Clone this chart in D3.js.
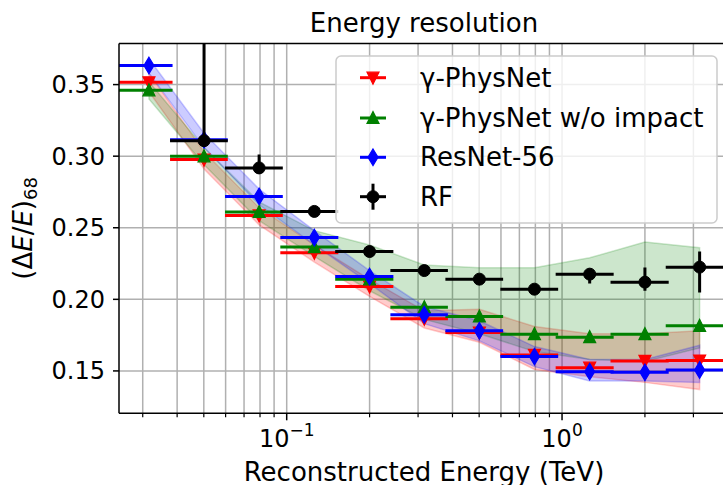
<!DOCTYPE html>
<html>
<head>
<meta charset="utf-8">
<script src="https://cdn.jsdelivr.net/npm/d3@7"></script>
<style>
body{margin:0;background:#fff}
text{font-family:"DejaVu Sans",sans-serif;fill:#000}
</style>
</head>
<body>
<div id="field"></div>
<script>
// bin centres and edges (TeV)
var energy  = [0.0316, 0.0501, 0.0794, 0.126, 0.200, 0.316, 0.501, 0.794, 1.26, 2.00, 3.16]
var binLow  = [0.0238, 0.0377, 0.0597, 0.0948, 0.150, 0.238, 0.377, 0.597, 0.948, 1.50, 2.38]
var binHigh = [0.0385, 0.0611, 0.0968, 0.154, 0.244, 0.385, 0.611, 0.968, 1.54, 2.44, 3.85]

// gamma-PhysNet
var physnet   = [0.3516, 0.2976, 0.2586, 0.2325, 0.2089, 0.1864, 0.1768, 0.1612, 0.1523, 0.1570, 0.1572]
var physnetLo = [0.345, 0.291, 0.252, 0.226, 0.202, 0.180, 0.170, 0.151, 0.146, 0.142, 0.137]
var physnetHi = [0.358, 0.303, 0.264, 0.238, 0.214, 0.192, 0.193, 0.181, 0.176, 0.176, 0.178]
// gamma-PhysNet w/o impact
var noImpact   = [0.3460, 0.2999, 0.2610, 0.2365, 0.2140, 0.1945, 0.1880, 0.1757, 0.1736, 0.1757, 0.1815]
var noImpactLo = [0.340, 0.294, 0.255, 0.230, 0.206, 0.186, 0.176, 0.1635, 0.158, 0.1565, 0.166]
var noImpactHi = [0.352, 0.306, 0.268, 0.248, 0.238, 0.224, 0.222, 0.222, 0.229, 0.240, 0.236]
// ResNet-56
var resnet   = [0.3633, 0.3115, 0.2719, 0.2432, 0.2159, 0.1892, 0.1780, 0.1600, 0.1495, 0.1490, 0.1507]
var resnetLo = [0.358, 0.306, 0.266, 0.238, 0.211, 0.183, 0.171, 0.153, 0.143, 0.143, 0.142]
var resnetHi = [0.368, 0.316, 0.277, 0.248, 0.220, 0.195, 0.185, 0.167, 0.158, 0.158, 0.168]
// RF (no value in first bin)
var rf     = [null, 0.3108, 0.2918, 0.2614, 0.2334, 0.2201, 0.2141, 0.2071, 0.2176, 0.2120, 0.2225]
var rfUp   = [null, 0.090, 0.0093, 0.003, 0.003, 0.002, 0.002, 0.002, 0.004, 0.0102, 0.011]
var rfDown = [null, 0.004, 0.004, 0.003, 0.003, 0.002, 0.002, 0.002, 0.0065, 0.006, 0.0178]

var seriesNames = ["γ-PhysNet", "γ-PhysNet w/o impact", "ResNet-56", "RF"]
var yTicks = [0.15, 0.20, 0.25, 0.30, 0.35]
var xMajor = [0.1, 1]
var xMajorExp = ["−1", "0"]

var width = 723
var height = 485
var svg = d3.select("div#field").append("svg")
            .attr("width", width)
            .attr("height", height)

var pL = 119, pR = 729, pT = 43.5, pB = 413.3
var x = d3.scaleLog().domain([0.02460, 4.04]).range([pL, pR])
var y = d3.scaleLinear().domain([0.1204, 0.3787]).range([pB, pT])

function rows(vals, lo, hi){
	return energy.map(function(e, i){
		return {e: e, lo0: binLow[i], hi0: binHigh[i], v: vals[i],
		        bandLo: lo ? lo[i] : null, bandHi: hi ? hi[i] : null,
		        up: 0, dn: 0}
	})
}
var series = [
	{name: seriesNames[0], color: "#ff0000", marker: "v", data: rows(physnet, physnetLo, physnetHi)},
	{name: seriesNames[1], color: "#008000", marker: "^", data: rows(noImpact, noImpactLo, noImpactHi)},
	{name: seriesNames[2], color: "#0000ff", marker: "d", data: rows(resnet, resnetLo, resnetHi)},
	{name: seriesNames[3], color: "#000000", marker: "o", data: rows(rf).map(function(d, i){
		d.up = rfUp[i]; d.dn = rfDown[i]; return d
	}).filter(function(d){return d.v != null})}
]

svg.append("clipPath").attr("id", "clip")
   .append("rect").attr("x", pL).attr("y", pT)
   .attr("width", pR - pL).attr("height", pB - pT)

// grid
var minor = []
for (var p = -2; p <= 1; p++)
	for (var k = 2; k <= 9; k++) minor.push(k * Math.pow(10, p))
minor = minor.filter(function(v){return v > x.domain()[0] && v < x.domain()[1]})
var grid = svg.append("g").attr("clip-path", "url(#clip)")
grid.selectAll("line.vx")
	.data(minor.concat(xMajor)).enter()
	.append("line")
	  .attr("x1", function(d){return x(d)}).attr("x2", function(d){return x(d)})
	  .attr("y1", pT).attr("y2", pB)
	  .attr("stroke", "#b0b0b0").attr("stroke-width", 1.5)
grid.selectAll("line.hy")
	.data(yTicks).enter()
	.append("line")
	  .attr("x1", pL).attr("x2", pR)
	  .attr("y1", function(d){return y(d)}).attr("y2", function(d){return y(d)})
	  .attr("stroke", "#b0b0b0").attr("stroke-width", 1.5)

// shaded bands
var plot = svg.append("g").attr("clip-path", "url(#clip)")
var area = d3.area()
	.x(function(d){return x(d.e)})
	.y0(function(d){return y(d.bandLo)})
	.y1(function(d){return y(d.bandHi)})
series.slice(0, 3).forEach(function(s){
	plot.append("path")
	  .datum(s.data)
	  .attr("d", area)
	  .attr("fill", s.color).attr("fill-opacity", 0.2)
	  .attr("stroke", s.color).attr("stroke-opacity", 0.2).attr("stroke-width", 1.5)
})

function markerPath(m){
	if (m == "v") return "M0,6.5L-6,-5.5L6,-5.5Z"
	if (m == "^") return "M0,-6.5L-6,5.5L6,5.5Z"
	if (m == "d") return "M0,-8.3L5,0L0,8.3L-5,0Z"
	return null
}
function drawMarker(g, m, color, cx, cy){
	if (m == "o")
		g.append("circle").attr("cx", cx).attr("cy", cy).attr("r", 6)
		 .attr("fill", color).attr("stroke", color).attr("stroke-width", 1)
	else
		g.append("path").attr("d", markerPath(m))
		 .attr("transform", "translate(" + cx + "," + cy + ")")
		 .attr("fill", color).attr("stroke", color).attr("stroke-width", 1.2)
		 .attr("stroke-linejoin", "miter")
}

// error bars + markers
series.forEach(function(s){
	var g = plot.append("g")
	g.selectAll("line.xe")
	  .data(s.data).enter()
	  .append("line")
	    .attr("x1", function(d){return x(d.lo0)}).attr("x2", function(d){return x(d.hi0)})
	    .attr("y1", function(d){return y(d.v)}).attr("y2", function(d){return y(d.v)})
	    .attr("stroke", s.color).attr("stroke-width", 3)
	g.selectAll("line.ye")
	  .data(s.data.filter(function(d){return d.up || d.dn})).enter()
	  .append("line")
	    .attr("x1", function(d){return x(d.e)}).attr("x2", function(d){return x(d.e)})
	    .attr("y1", function(d){return y(d.v + d.up)}).attr("y2", function(d){return y(d.v - d.dn)})
	    .attr("stroke", s.color).attr("stroke-width", 3)
	s.data.forEach(function(d){ drawMarker(g, s.marker, s.color, x(d.e), y(d.v)) })
})

// spines
var ax = svg.append("g").attr("stroke", "#000").attr("stroke-width", 1.5)
ax.append("line").attr("x1", pL).attr("x2", pL).attr("y1", pT).attr("y2", pB)
ax.append("line").attr("x1", pL).attr("x2", pR).attr("y1", pB).attr("y2", pB)
ax.append("line").attr("x1", pL).attr("x2", pR).attr("y1", pT).attr("y2", pT)
ax.append("line").attr("x1", pR).attr("x2", pR).attr("y1", pT).attr("y2", pB)

// ticks
ax.selectAll("line.xt").data(xMajor).enter().append("line")
  .attr("x1", function(d){return x(d)}).attr("x2", function(d){return x(d)})
  .attr("y1", pB).attr("y2", pB + 7)
ax.selectAll("line.xm").data(minor).enter().append("line")
  .attr("x1", function(d){return x(d)}).attr("x2", function(d){return x(d)})
  .attr("y1", pB).attr("y2", pB + 4).attr("stroke-width", 1.2)
ax.selectAll("line.yt").data(yTicks).enter().append("line")
  .attr("x1", pL - 6).attr("x2", pL)
  .attr("y1", function(d){return y(d)}).attr("y2", function(d){return y(d)})

svg.selectAll("text.yl").data(yTicks).enter().append("text")
  .attr("x", pL - 14).attr("y", function(d){return y(d)})
  .attr("dy", "0.35em").attr("text-anchor", "end")
  .attr("font-size", 24)
  .text(function(d){return d3.format(".2f")(d)})

var xl = svg.selectAll("text.xl").data(xMajor).enter().append("text")
  .attr("x", function(d){return x(d)}).attr("y", 447)
  .attr("text-anchor", "middle").attr("font-size", 24)
xl.append("tspan").text("10")
xl.append("tspan").attr("dy", -11).attr("font-size", 17)
  .text(function(d, i){return xMajorExp[i]})

// titles
svg.append("text").attr("x", (pL + pR) / 2).attr("y", 32)
   .attr("text-anchor", "middle").attr("font-size", 26).text("Energy resolution")
svg.append("text").attr("x", (pL + pR) / 2).attr("y", 481)
   .attr("text-anchor", "middle").attr("font-size", 26).text("Reconstructed Energy (TeV)")
var yl = svg.append("text")
   .attr("transform", "translate(32," + ((pT + pB) / 2) + ") rotate(-90)")
   .attr("text-anchor", "middle").attr("font-size", 26)
yl.append("tspan").text("(Δ")
yl.append("tspan").attr("font-style", "italic").text("E")
yl.append("tspan").text("/")
yl.append("tspan").attr("font-style", "italic").text("E")
yl.append("tspan").text(")")
yl.append("tspan").attr("dy", 5).attr("font-size", 18).text("68")

// legend
var lg = svg.append("g")
lg.append("rect").attr("x", 336).attr("y", 56).attr("width", 381).attr("height", 167)
  .attr("rx", 5).attr("fill", "#fff").attr("fill-opacity", 0.8)
  .attr("stroke", "#cccccc").attr("stroke-width", 1.5)
var rowY = [77.7, 118, 157.3, 196.7]
series.forEach(function(s, i){
	var ry = rowY[i]
	lg.append("line").attr("x1", 360).attr("x2", 386).attr("y1", ry).attr("y2", ry)
	  .attr("stroke", s.color).attr("stroke-width", 3)
	if (s.marker == "o")
		lg.append("line").attr("x1", 373).attr("x2", 373).attr("y1", ry - 13).attr("y2", ry + 13)
		  .attr("stroke", s.color).attr("stroke-width", 3)
	drawMarker(lg, s.marker, s.color, 373, ry)
	lg.append("text").attr("x", 420).attr("y", ry).attr("dy", "0.35em")
	  .attr("font-size", 26).text(s.name)
})
</script>
</body>
</html>
